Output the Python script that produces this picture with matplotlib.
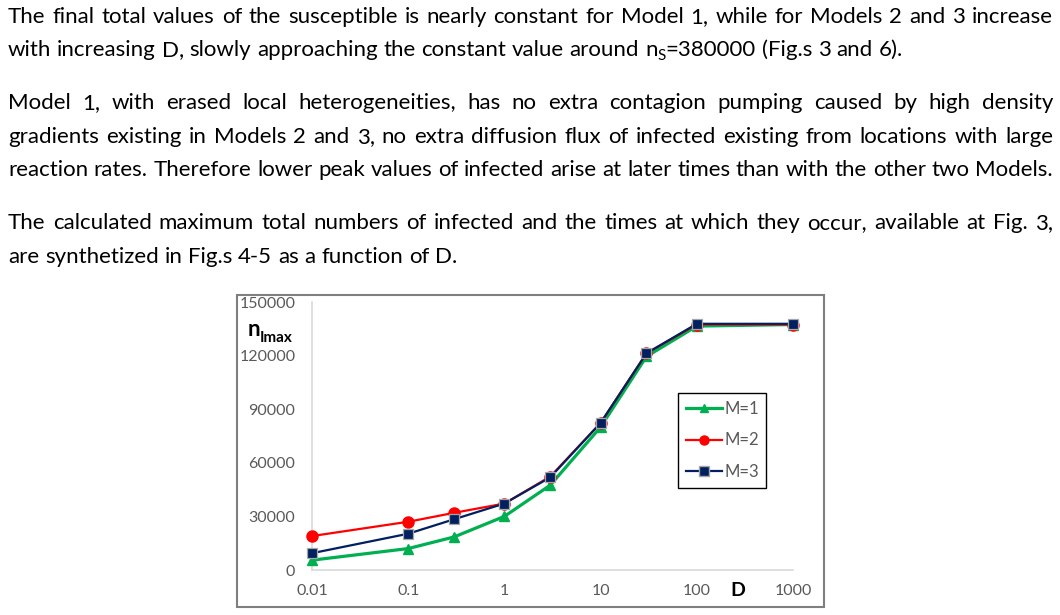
import matplotlib
matplotlib.use('Agg')
import matplotlib.pyplot as plt
from matplotlib.patches import Rectangle
from matplotlib.lines import Line2D

# Valores
D = [0.01, 0.1, 0.3, 1, 3, 10, 30, 100, 1000]
m1 = [5500, 12000, 18500, 30000, 47500, 80000, 119500, 136500, 137400]
m2 = [19000, 27000, 32000, 37200, 52300, 82300, 121300, 137400, 137400]
m3 = [9400, 20300, 28400, 37200, 51900, 82300, 121300, 137800, 137800]
series_labels = ['M=1', 'M=2', 'M=3']
x_ticks = [0.01, 0.1, 1, 10, 100, 1000]
x_tick_labels = ['0.01', '0.1', '1', '10', '100', '1000']
y_ticks = [0, 30000, 60000, 90000, 120000, 150000]

para_lines = [
    ("The final total values of the susceptible is nearly constant for Model 1, while for Models 2 and 3 increase", True),
    ("with increasing D, slowly approaching the constant value around n_S=380000 (Fig.s 3 and 6).", False),
    ("Model 1, with erased local heterogeneities, has no extra contagion pumping caused by high density", True),
    ("gradients existing in Models 2 and 3, no extra diffusion flux of infected existing from locations with large", True),
    ("reaction rates. Therefore lower peak values of infected arise at later times than with the other two Models.", True),
    ("The calculated maximum total numbers of infected and the times at which they occur, available at Fig. 3,", True),
    ("are synthetized in Fig.s 4-5 as a function of D.", False),
]
baselines = [23, 56, 109, 143, 176, 229, 263]

W, H = 1060, 615
FONT = 'Lato'
fig = plt.figure(figsize=(W / 100, H / 100), dpi=100)
renderer = fig.canvas.get_renderer()

def fx(x):
    return x / W

def fy(y):
    return 1 - y / H

def width_of(t):
    return t.get_window_extent(renderer).width

# calibrando o tamanho da fonte pela linha mais longa
probe = fig.text(0, 0, para_lines[4][0], fontsize=14, family=FONT)
fs = 14 * 1045 / width_of(probe)
probe.remove()

def put_word(x, y, word):
    # devolve os textos criados e a largura total
    if '_' in word:
        a, b = word.split('_')
        t1 = fig.text(fx(x), fy(y), a, fontsize=fs, family=FONT, va='baseline')
        w1 = width_of(t1)
        t2 = fig.text(fx(x + w1), fy(y + 4), b[0], fontsize=fs * 0.68, family=FONT, va='baseline')
        w2 = width_of(t2)
        t3 = fig.text(fx(x + w1 + w2), fy(y), b[1:], fontsize=fs, family=FONT, va='baseline')
        arts = [(t1, 0, 0), (t2, w1, 4), (t3, w1 + w2, 0)]
        return arts, w1 + w2 + width_of(t3)
    t = fig.text(fx(x), fy(y), word, fontsize=fs, family=FONT, va='baseline')
    return [(t, 0, 0)], width_of(t)

sp = fig.text(0, 0, 'a a', fontsize=fs, family=FONT)
sa = fig.text(0, 0, 'aa', fontsize=fs, family=FONT)
space_w = width_of(sp) - width_of(sa)
sp.remove()
sa.remove()

# texto justificado palavra a palavra
left, right = 8, 1053
for (line, justify), yb in zip(para_lines, baselines):
    words = line.split(' ')
    placed = [put_word(0, yb, w) for w in words]
    total = sum(p[1] for p in placed)
    gap = (right - left - total) / (len(words) - 1) if justify else space_w
    x = left
    for arts, w in placed:
        for t, dx, dy in arts:
            t.set_position((fx(x + dx), fy(yb + dy)))
        x += w + gap

# moldura do gráfico
fig.add_artist(Rectangle((fx(237), fy(607)), (824 - 237) / W, (607 - 295) / H,
                         transform=fig.transFigure, fill=False, ec='#7f7f7f', lw=1.5))

ax = fig.add_axes([fx(312), fy(570), (793 - 312) / W, (570 - 302) / H])
ax.set_xscale('log')
ax.set_xlim(0.01, 1000)
ax.set_ylim(0, 150000)

ax.plot(D, m1, color='#00B050', lw=2.3, marker='^', ms=7.5, mfc='#00B050', mec='#00B050',
        clip_on=False, zorder=3)
ax.plot(D, m2, color='#FF0000', lw=1.6, marker='o', ms=8, mfc='#FF0000', mec='#FF0000',
        clip_on=False, zorder=4)
ax.plot(D, m3, color='#002060', lw=1.6, marker='s', ms=7, mfc='#002060', mec='#A6A6A6',
        mew=0.9, clip_on=False, zorder=5)

ax.set_xticks(x_ticks)
ax.set_xticklabels(x_tick_labels)
ax.xaxis.set_minor_locator(matplotlib.ticker.NullLocator())
ax.set_yticks(y_ticks)
ax.set_yticklabels([str(v) for v in y_ticks])
ax.tick_params(length=0, colors='#595959', labelsize=11.5)
ax.tick_params(axis='y', pad=12)
ax.tick_params(axis='x', pad=10)
for lab in ax.get_xticklabels() + ax.get_yticklabels():
    lab.set_family(FONT)
for s in ['top', 'right']:
    ax.spines[s].set_visible(False)
for s in ['left', 'bottom']:
    ax.spines[s].set_color('#D9D9D9')
    ax.spines[s].set_linewidth(1.2)

handles = [
    Line2D([], [], color='#00B050', lw=2.3, marker='^', ms=6, mfc='#00B050', mec='#00B050'),
    Line2D([], [], color='#FF0000', lw=1.6, marker='o', ms=6.5, mfc='#FF0000', mec='#FF0000'),
    Line2D([], [], color='#002060', lw=1.6, marker='s', ms=6.5, mfc='#002060', mec='#A6A6A6'),
]
leg = fig.legend(handles, series_labels, loc='upper left',
                 bbox_to_anchor=(fx(678), fy(393)), bbox_transform=fig.transFigure,
                 fancybox=False, framealpha=1, edgecolor='black',
                 handlelength=2.2, handletextpad=0.12, labelspacing=0.95,
                 borderpad=0.45, borderaxespad=0, prop={'family': FONT, 'size': 12})
leg.get_frame().set_linewidth(1.0)
for t in leg.get_texts():
    t.set_color('#595959')

fig.text(fx(248), fy(336), 'n', fontsize=16, fontweight='bold', family=FONT, va='baseline')
fig.text(fx(260), fy(342), 'Imax', fontsize=11, fontweight='bold', family=FONT, va='baseline')
fig.text(fx(738), fy(591), 'D', fontsize=14, fontweight='bold', family=FONT,
         ha='center', va='center')

fig.savefig('out.png', dpi=100)
